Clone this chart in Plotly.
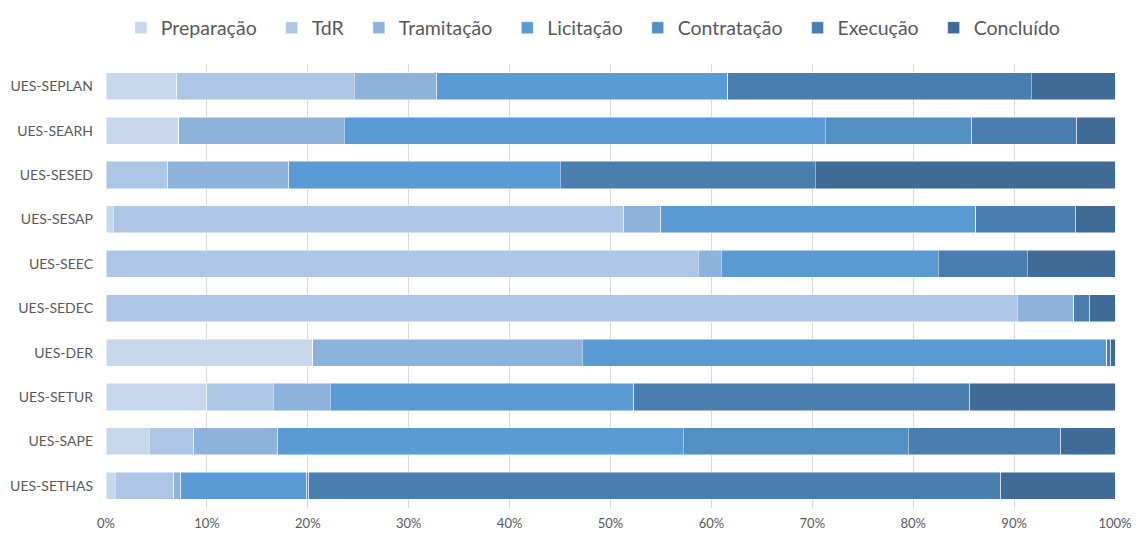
import plotly.graph_objects as go

categories = ["UES-SEPLAN", "UES-SEARH", "UES-SESED", "UES-SESAP", "UES-SEEC",
              "UES-SEDEC", "UES-DER", "UES-SETUR", "UES-SAPE", "UES-SETHAS"]

preparacao  = [7.0, 7.2, 0.0, 0.7, 0.0, 0.0, 20.5, 10.0, 4.3, 0.9]
tdr         = [17.6, 0.0, 6.1, 50.6, 58.7, 90.3, 0.0, 6.6, 4.4, 5.8]
tramitacao  = [8.2, 16.4, 12.0, 3.7, 2.3, 5.6, 26.7, 5.6, 8.3, 0.7]
licitacao   = [28.8, 47.7, 26.9, 31.2, 21.5, 0.0, 52.0, 30.1, 40.2, 12.5]
contratacao = [0.0, 14.5, 0.0, 0.0, 0.0, 0.0, 0.0, 0.0, 22.3, 0.2]
execucao    = [30.1, 10.4, 25.3, 9.9, 8.8, 1.6, 0.4, 33.3, 15.1, 68.6]
concluido   = [8.3, 3.8, 29.7, 3.9, 8.7, 2.5, 0.4, 14.4, 5.4, 11.3]

series_names = ["Preparação", "TdR", "Tramitação", "Licitação", "Contratação", "Execução", "Concluído"]
series_values = [preparacao, tdr, tramitacao, licitacao, contratacao, execucao, concluido]
colors = ["#C7D8ED", "#ADC6E6", "#8DB2DC", "#5B9BD5", "#528FC3", "#4A7EAF", "#3F6B96"]

pad = "\u00a0\u00a0"

fig = go.Figure()
for i, (name, vals, col) in enumerate(zip(series_names, series_values, colors)):
    label = name + (pad if i < len(series_names) - 1 else "")
    fig.add_trace(go.Bar(
        y=categories, x=vals, name=label, orientation="h",
        marker=dict(color=col, line=dict(color="rgba(255,255,255,0.6)", width=0.8)),
        hovertemplate=name + ": %{x:.1f}%<extra>%{y}</extra>",
    ))

fig.update_layout(
    barmode="stack",
    barnorm="percent",
    bargap=0.39,
    width=1136, height=534,
    margin=dict(l=106, r=21, t=64, b=26, autoexpand=False),
    plot_bgcolor="white", paper_bgcolor="white",
    font=dict(family="Lato, 'Open Sans', sans-serif", color="#595959"),
    legend=dict(orientation="h", x=0.483, xanchor="center", y=1.081, yanchor="middle",
                font=dict(size=19.5, color="#595959"), traceorder="normal",
                itemwidth=30),
    xaxis=dict(range=[0, 100], dtick=10, ticksuffix="%", showgrid=True,
               gridcolor="#D9D9D9", gridwidth=1, zeroline=False,
               tickfont=dict(size=13, color="#595959"), showline=False, ticks="",
               ticklabelstandoff=6, automargin=False),
    yaxis=dict(autorange="reversed", tickfont=dict(size=14, color="#595959"),
               showgrid=False, ticks="", ticklen=0, showline=False,
               ticklabelstandoff=12, automargin=False),
)

fig.write_html("out.html", config={"displayModeBar": False},
               post_script="document.body.style.margin='0';document.body.style.overflow='hidden';")
